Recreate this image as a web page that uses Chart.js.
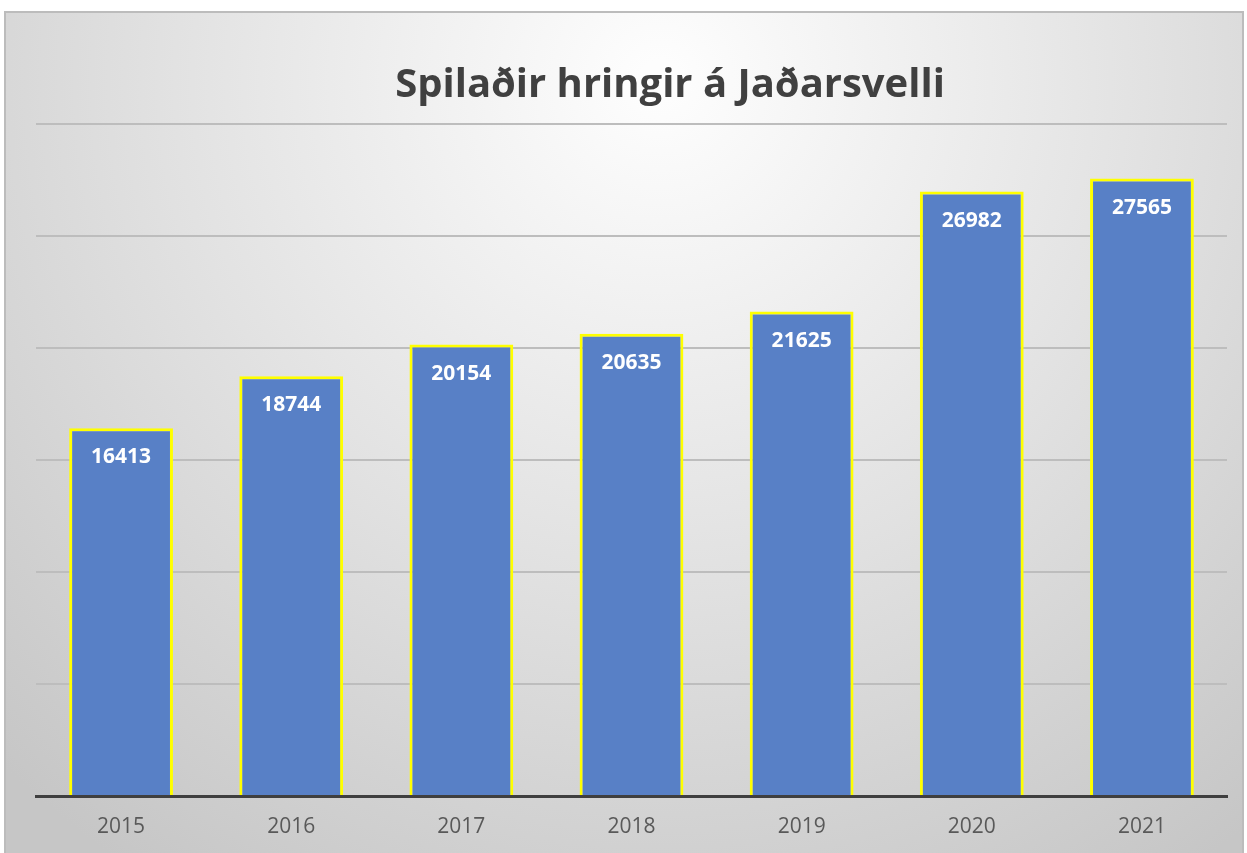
<!DOCTYPE html>
<html>
<head>
<meta charset="utf-8">
<script src="https://cdn.jsdelivr.net/npm/chart.js@4.4.1/dist/chart.umd.min.js"></script>
<style>
  html, body { margin: 0; padding: 0; background: #ffffff; }
  #wrap { width: 1247px; height: 853px; }
</style>
</head>
<body>
<div id="wrap"><canvas id="myChart" width="1247" height="853"></canvas></div>
<script>
// data
const years = ['2015', '2016', '2017', '2018', '2019', '2020', '2021'];
const rounds = [16413, 18744, 20154, 20635, 21625, 26982, 27565];
const chartTitle = 'Spilaðir hringir á Jaðarsvelli';

// grey gradient panel with a thin frame, like the office chart
const panelBg = {
    id: 'panelBg',
    beforeDraw(chart) {
        const c = chart.ctx;
        c.save();
        const g = c.createRadialGradient(660, 80, 20, 660, 80, 950);
        g.addColorStop(0, '#fdfdfd');
        g.addColorStop(0.5, '#e2e2e2');
        g.addColorStop(1, '#c6c6c6');
        c.fillStyle = g;
        c.fillRect(5, 12, 1238, 860);
        c.strokeStyle = '#bcbcbc';
        c.lineWidth = 2;
        c.strokeRect(5, 12, 1238, 860);
        // title is a bit right of the plot centre in the original
        c.fillStyle = '#404040';
        c.font = 'bold 40px "Open Sans", sans-serif';
        c.textAlign = 'center';
        c.textBaseline = 'middle';
        c.fillText(chartTitle, 670, 86);
        c.restore();
    }
};

// white value labels near the top of each bar
const barLabels = {
    id: 'barLabels',
    afterDatasetsDraw(chart) {
        const c = chart.ctx;
        const meta = chart.getDatasetMeta(0);
        c.save();
        c.fillStyle = '#ffffff';
        c.font = 'bold 21px "Open Sans", sans-serif';
        c.textAlign = 'center';
        c.textBaseline = 'middle';
        meta.data.forEach((bar, i) => {
            c.fillText(String(rounds[i]), bar.x, bar.y + 29);
        });
        c.restore();
    }
};

const ctx = document.getElementById('myChart');
new Chart(ctx, {
    type: 'bar',
    data: {
        labels: years,
        datasets: [{
            data: rounds,
            backgroundColor: '#5880c6',
            borderColor: '#ffff00',
            borderWidth: 3,
            barPercentage: 0.61,
            categoryPercentage: 1
        }]
    },
    options: {
        responsive: false,
        animation: false,
        layout: { padding: { top: 124, left: 36, right: 20, bottom: 15 } },
        scales: {
            x: {
                grid: { display: false, drawTicks: false },
                border: { display: true, color: '#3f3f3f', width: 3 },
                ticks: {
                    color: '#595959',
                    padding: 18,
                    font: { size: 21, family: '"Open Sans", sans-serif' }
                },
                afterFit(scale) { scale.height = 42; }
            },
            y: {
                min: 0,
                max: 30000,
                ticks: { display: false, stepSize: 5000 },
                grid: { color: '#bdbdbd', lineWidth: 2, drawTicks: false },
                border: { display: false },
                afterFit(scale) { scale.width = 0; }
            }
        },
        plugins: {
            legend: { display: false },
            tooltip: { enabled: false },
            title: { display: false }
        }
    },
    plugins: [panelBg, barLabels]
});
</script>
</body>
</html>
